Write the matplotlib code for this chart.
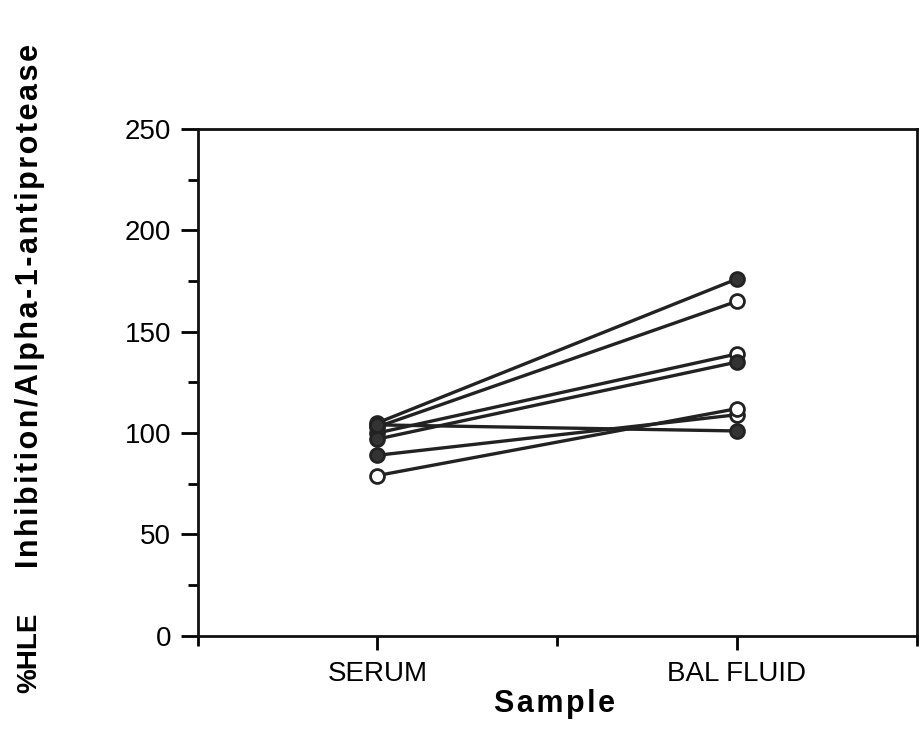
import numpy as np
import matplotlib
matplotlib.use('Agg')
from matplotlib import pyplot as plt
from matplotlib.ticker import MultipleLocator

plt.rcParams['font.family'] = ['Liberation Sans', 'DejaVu Sans']

# 每个受试者：血清值 -> BAL 液值
samples = ['SERUM', 'BAL FLUID']
serum = [105, 103, 100, 97, 104, 89, 79]
bal = [176, 165, 139, 135, 101, 109, 112]
serum_filled = [True, True, True, True, True, True, False]
bal_filled = [True, False, False, True, True, False, False]

fig = plt.figure(figsize=(9.24, 7.46), dpi=100)
ax = fig.add_axes([0.214, 0.148, 0.778, 0.679])

x = [1, 2]
for i in range(len(serum)):
    ax.plot(x, [serum[i], bal[i]], color='#222222', lw=2.4, zorder=2)
for i in range(len(serum)):
    for xi, val, filled in [(1, serum[i], serum_filled[i]), (2, bal[i], bal_filled[i])]:
        ax.plot(xi, val, 'o', ms=10, mew=2, mec='#222222',
                mfc='#333333' if filled else 'white', zorder=3)

ax.set_xlim(0.5, 2.5)
ax.set_ylim(0, 250)
ax.set_xticks(x)
ax.set_xticklabels(samples, fontsize=20)
ax.xaxis.set_minor_locator(MultipleLocator(0.5))
ax.yaxis.set_major_locator(MultipleLocator(50))
ax.yaxis.set_minor_locator(MultipleLocator(25))
ax.tick_params(axis='y', which='major', direction='out', length=12, width=2, labelsize=20, pad=7)
ax.tick_params(axis='y', which='minor', direction='out', length=7, width=2)
ax.tick_params(axis='x', which='major', direction='out', length=10, width=2, pad=8)
ax.tick_params(axis='x', which='minor', direction='out', length=7, width=2)
for s in ax.spines.values():
    s.set_linewidth(2)
    s.set_color('#111111')

# 字间距加宽
fig.text(0.6, 0.056, '\u200a'.join('Sample'), fontsize=22, fontweight='bold',
         ha='center', va='center')
fig.text(0.032, 0.59, '\u200a'.join('Inhibition/Alpha-1-antiprotease'), fontsize=22,
         fontweight='bold', rotation=90, ha='center', va='center')
fig.text(0.032, 0.125, '%HLE', fontsize=20, fontweight='bold',
         rotation=90, ha='center', va='center')

plt.savefig('out.png', dpi=100)
